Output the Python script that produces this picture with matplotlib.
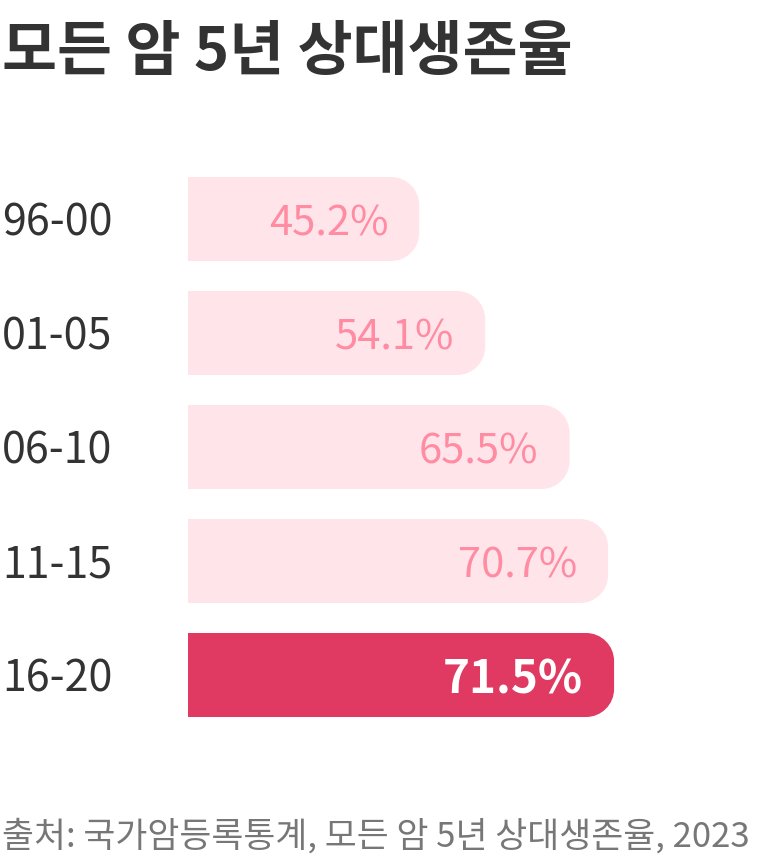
import numpy as np
import matplotlib
matplotlib.use('Agg')
import matplotlib.pyplot as plt
from matplotlib.path import Path
from matplotlib.patches import PathPatch

# data
periods = ['96-00', '01-05', '06-10', '11-15', '16-20']
survival = [45.2, 54.1, 65.5, 70.7, 71.5]
highlight = '16-20'

title = '모든 암 5년 상대생존율'
source = '출처: 국가암등록통계, 모든 암 5년 상대생존율, 2023'

light_bar = '#ffe5ea'
light_txt = '#ff8ca3'
dark_bar = '#e03a62'
ink = '#333333'

plt.rcParams['font.family'] = ['Noto Sans CJK KR', 'DejaVu Sans']

W, H = 760, 862
fig = plt.figure(figsize=(W / 100, H / 100), dpi=100)

# axes in pixel terms: bars start at x=188, rows 114 px apart
x0_px, row_px = 188, 114
top_px = 220 - row_px / 2
ax = fig.add_axes([x0_px / W, (H - (top_px + 5 * row_px)) / H,
                   (W - x0_px) / W, 5 * row_px / H])
xmin = 14.0           # axis starts above zero
px_per_unit = 7.41
ax.set_xlim(xmin, xmin + (W - x0_px) / px_per_unit)
ax.set_ylim(4.5, -0.5)
ax.axis('off')

bar_h = 84 / row_px
rx = 28 / px_per_unit
ry = 28 / row_px
k = 0.5523


def round_bar(y, value, color):
    left = 0
    x1 = value
    yb, yt = y - bar_h / 2, y + bar_h / 2
    verts = [(left, yb), (x1 - rx, yb),
             (x1 - rx + k * rx, yb), (x1, yb + ry - k * ry), (x1, yb + ry),
             (x1, yt - ry),
             (x1, yt - ry + k * ry), (x1 - rx + k * rx, yt), (x1 - rx, yt),
             (left, yt), (left, yb)]
    codes = [Path.MOVETO, Path.LINETO,
             Path.CURVE4, Path.CURVE4, Path.CURVE4,
             Path.LINETO,
             Path.CURVE4, Path.CURVE4, Path.CURVE4,
             Path.LINETO, Path.CLOSEPOLY]
    ax.add_patch(PathPatch(Path(verts, codes), facecolor=color,
                           edgecolor='none', clip_on=True))


for i, (p, v) in enumerate(zip(periods, survival)):
    hi = p == highlight
    round_bar(i, v, dark_bar if hi else light_bar)
    ax.annotate(f'{v}%', xy=(v, i),
                xytext=(-31 * 0.72, -(18 if hi else 16) * 0.72),
                textcoords='offset points', ha='right', va='baseline',
                fontsize=33 if hi else 30,
                fontweight='bold' if hi else 'normal',
                color='white' if hi else light_txt)
    ax.annotate(p, xy=(0, i), xycoords=ax.get_yaxis_transform(),
                xytext=(-(x0_px - 2) * 0.72, -16 * 0.72),
                textcoords='offset points', ha='left', va='baseline',
                fontsize=31, color=ink)

fig.text(2 / W, 1 - 70 / H, title, ha='left', va='baseline',
         fontsize=43, fontweight='bold', color=ink)
fig.text(2 / W, 1 - 847 / H, source, ha='left', va='baseline',
         fontsize=25, color='#777777')

fig.savefig('out.png', dpi=100, facecolor='white')
